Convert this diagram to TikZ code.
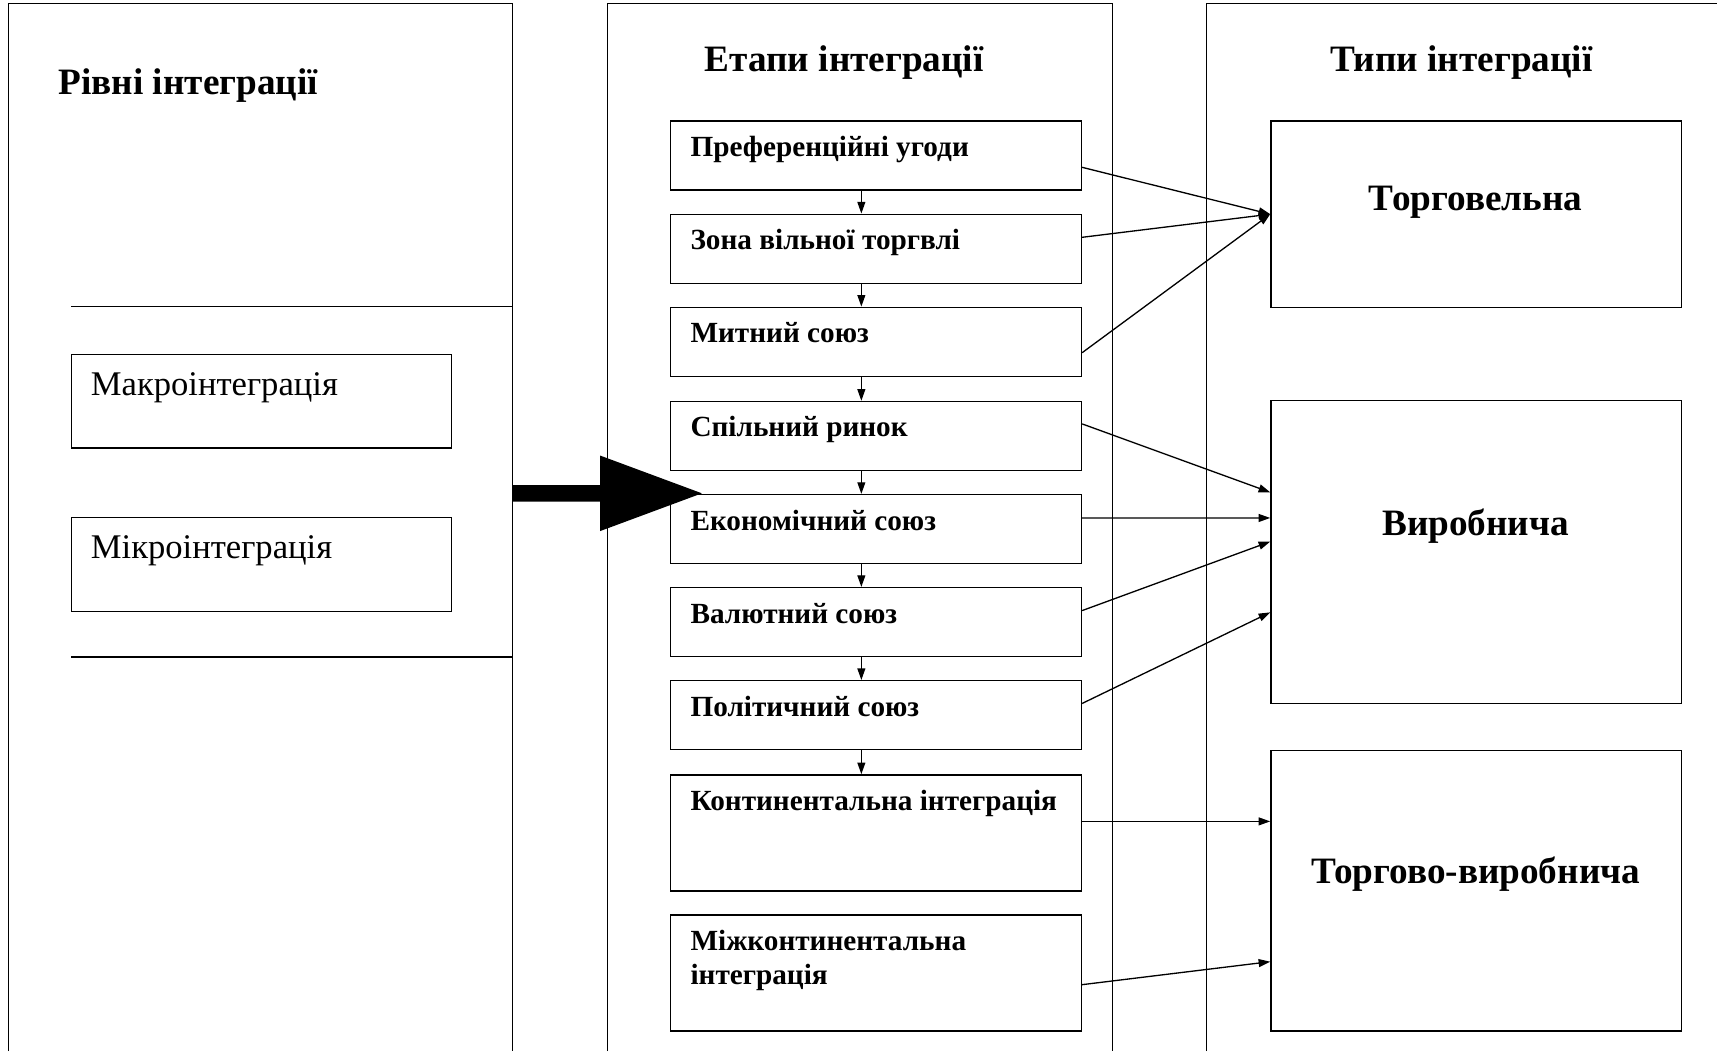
\documentclass[tikz,border=0pt]{standalone}
\usepackage{fontspec}
\setmainfont{Liberation Serif}
\usetikzlibrary{arrows.meta}

\begin{document}
\begin{tikzpicture}[x=0.5pt,y=-0.5pt,line width=0.6pt,
  stagebox/.style={draw,anchor=north west,minimum width=187.5pt,minimum height=31.5pt,inner sep=0pt},
  stagetxt/.style={anchor=base west,inner sep=0pt,align=left,font=\fontsize{13.35}{15.65}\selectfont\bfseries},
  typebox/.style={draw,anchor=north west,minimum width=187.5pt,inner sep=0pt},
  typetxt/.style={anchor=base,inner sep=0pt,font=\fontsize{17}{20}\selectfont\bfseries},
  headtxt/.style={anchor=base west,inner sep=0pt,font=\fontsize{17}{20}\selectfont\bfseries},
  levelbox/.style={draw,anchor=north west,minimum width=173.5pt,minimum height=42.8pt,inner sep=0pt},
  leveltxt/.style={anchor=base west,inner sep=0pt,font=\fontsize{15.8}{19}\selectfont},
  flow/.style={-{Triangle[length=5.3pt,width=3.6pt]}}]
\useasboundingbox (0,0) rectangle (1568,960);

% columns
\draw (8,960) -- (8,3) -- (468,3) -- (468,960);
\draw (555,960) -- (555,3) -- (1016,3) -- (1016,960);
\draw (1102,960) -- (1102,3) -- (1568,3);
\draw (65,280) -- (468,280);
\draw (65,600) -- (468,600);

\node[headtxt] (lvlhead) at (53,86) {Рівні інтеграції};
\node[levelbox] (macro) at (65,323) {};
\node[leveltxt] (macrotxt) at ([xshift=8.7pt,yshift=-19pt]macro.north west) {Макроінтеграція};
\node[levelbox] (micro) at (65,472) {};
\node[leveltxt] (microtxt) at ([xshift=8.7pt,yshift=-19pt]micro.north west) {Мікроінтеграція};

\fill (468,443) -- (548,443) -- (548,416) -- (641,450.5) -- (548,485) -- (548,458) -- (468,458) -- cycle;

\node[headtxt] (stagehead) at (643,65.5) {Етапи інтеграції};
\foreach \y/\t [count=\i] in {110/Преференційні угоди,195/Зона вільної торгвлі,280/Митний союз,
    366/Спільний ринок,451/Економічний союз,536/Валютний союз,621/Політичний союз}{
  \node[stagebox] (st\i) at (612,\y) {};
  \node[stagetxt] (st\i txt) at ([xshift=9pt,yshift=-16.5pt]st\i.north west) {\t};
}
\node[stagebox,minimum height=53pt] (st8) at (612,707) {};
\node[stagetxt] (st8txt) at ([xshift=9pt,yshift=-16.5pt]st8.north west) {Континентальна інтеграція};
\node[stagebox,minimum height=53pt] (st9) at (612,835) {};
% base of a two-line node sits on its last line
\node[stagetxt] (st9txt) at ([xshift=9pt,yshift=-32.15pt]st9.north west) {Міжконтинентальна\\інтеграція};
\foreach \i [count=\j from 2] in {1,...,7}
  \draw[flow] ([xshift=-6.75pt]st\i.south) -- ([xshift=-6.75pt]st\j.north);

\node[headtxt] (typehead) at (1214,65.5) {Типи інтеграції};
\node[typebox,minimum height=85pt] (tp1) at (1160,110) {};
\node[typebox,minimum height=138.4pt] (tp2) at (1160,365.3) {};
\node[typebox,minimum height=128pt] (tp3) at (1160,685) {};
\node[typetxt] (tp1txt) at (1347.5,191.8) {Торговельна};
\node[typetxt] (tp2txt) at (1347.5,488.6) {Виробнича};
\node[typetxt] (tp3txt) at (1347.5,807) {Торгово-виробнича};

\draw[flow] ([yshift=-5.35pt]st1.east) -- (tp1.west);
\draw[flow] ([yshift=5.2pt]st2.east) -- (tp1.west);
\draw[flow] ([yshift=-5pt]st3.east) -- (tp1.west);
\draw[flow] ([yshift=5.5pt]st4.east) -- ([yshift=27.35pt]tp2.west);
\draw[flow] ([yshift=5pt]st5.east) -- ([yshift=15.65pt]tp2.west);
\draw[flow] ([yshift=5.25pt]st6.east) -- ([yshift=4.85pt]tp2.west);
\draw[flow] ([yshift=5.35pt]st7.east) -- ([yshift=-27.45pt]tp2.west);
\draw[flow] ([yshift=5.25pt]st8.east) -- ([yshift=31.75pt]tp3.west);
\draw[flow] ([yshift=-5.3pt]st9.east) -- ([yshift=-32.3pt]tp3.west);
\end{tikzpicture}
\end{document}
